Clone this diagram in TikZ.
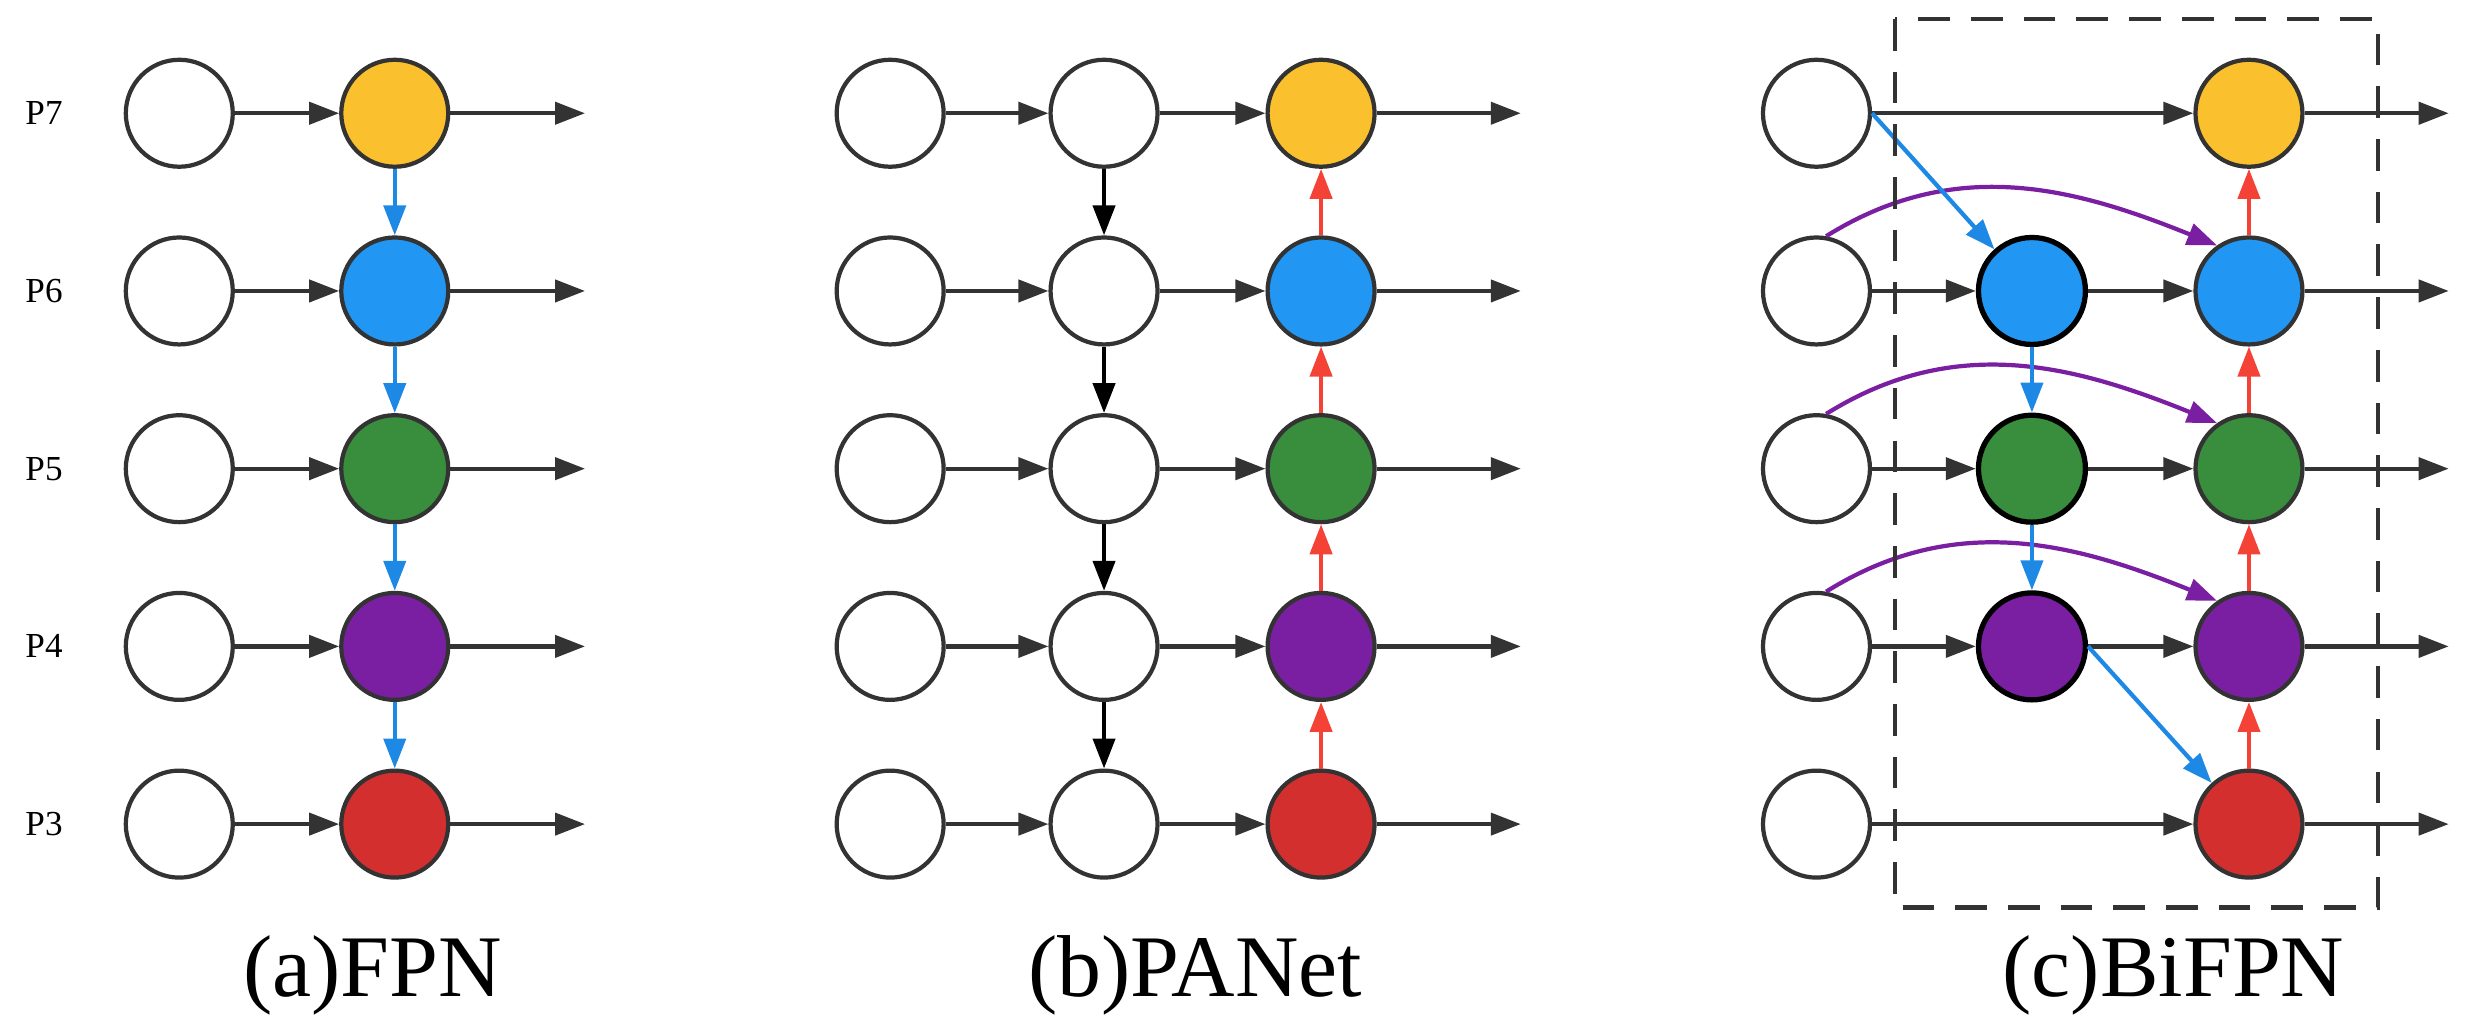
\documentclass[tikz,border=0pt]{standalone}
\usepackage{fontspec}
\setmainfont{Liberation Serif}
\usetikzlibrary{arrows.meta}
\definecolor{cy}{HTML}{FBC02D}\definecolor{cb}{HTML}{2196F3}\definecolor{cg}{HTML}{388E3C}
\definecolor{cp}{HTML}{7B1FA2}\definecolor{cr}{HTML}{D32F2F}\definecolor{ed}{HTML}{333333}
\definecolor{colB}{HTML}{1E88E5}\definecolor{colR}{HTML}{F44336}\definecolor{colP}{HTML}{7B1FA2}
\begin{document}
\begin{tikzpicture}[x=0.01573cm,y=-0.01573cm,
 nd/.style={circle,draw=ed,line width=1.2pt,minimum size=1.07cm,inner sep=0pt},
 arw/.style={-{Triangle[length=0.3cm,width=0.22cm]},line width=1.2pt},
 hz/.style={arw,ed},
 lbl/.style={font=\fontsize{10}{12}\selectfont},
 captxt/.style={font=\fontsize{25}{28}\selectfont}]
\useasboundingbox (0,0) rectangle (1568,650.5);
\foreach \n/\y in {7/72,6/185,5/298,4/411,3/524}{
 \node[lbl] (L\n) at (28,\y) {P\n};
 \coordinate (ea\n) at (372,\y);\coordinate (eb\n) at (967,\y);\coordinate (ec\n) at (1557,\y);
}
\foreach \n/\y/\c in {7/72/cy,6/185/cb,5/298/cg,4/411/cp,3/524/cr}{
 \node[nd] (a1\n) at (114,\y) {};
 \node[nd,fill=\c] (a2\n) at (251,\y) {};
 \draw[hz] (a1\n) -- (a2\n); \draw[hz] (a2\n) -- (ea\n);
 \node[nd] (b1\n) at (566,\y) {};
 \node[nd] (b2\n) at (702,\y) {};
 \node[nd,fill=\c] (b3\n) at (840,\y) {};
 \draw[hz] (b1\n) -- (b2\n); \draw[hz] (b2\n) -- (b3\n); \draw[hz] (b3\n) -- (eb\n);
 \node[nd] (c1\n) at (1155,\y) {};
 \node[nd,fill=\c] (c3\n) at (1430,\y) {};
 \draw[hz] (c3\n) -- (ec\n);
}
\foreach \a/\b in {7/6,6/5,5/4,4/3}{
 \draw[arw,colB] (a2\a) -- (a2\b);
 \draw[arw,black] (b2\a) -- (b2\b);
 \draw[arw,colR] (b3\b) -- (b3\a);
 \draw[arw,colR] (c3\b) -- (c3\a);
}
\foreach \n/\y/\c in {6/185/cb,5/298/cg,4/411/cp}{
 \node[nd,fill=\c,line width=1.5pt,draw=black] (c2\n) at (1292,\y) {};
 \draw[hz] (c1\n) -- (c2\n); \draw[hz] (c2\n) -- (c3\n);
 \draw[arw,colP] (c1\n.80) to[out=32,in=158] (c3\n.125);
}
\draw[hz] (c17) -- (c37);
\draw[hz] (c13) -- (c33);
\draw[arw,colB] (c17.east) -- (c26);
\draw[arw,colB] (c26) -- (c25);
\draw[arw,colB] (c25) -- (c24);
\draw[arw,colB] (c24.east) -- (c33);
\draw[ed,line width=1.2pt,dash pattern=on 9pt off 6pt] (1205,12) rectangle (1512,577);
\node[captxt] (ca) at (237,620) {(a)FPN};
\node[captxt] (cbx) at (760,620) {(b)PANet};
\node[captxt] (ccx) at (1382,620) {(c)BiFPN};
\end{tikzpicture}
\end{document}
